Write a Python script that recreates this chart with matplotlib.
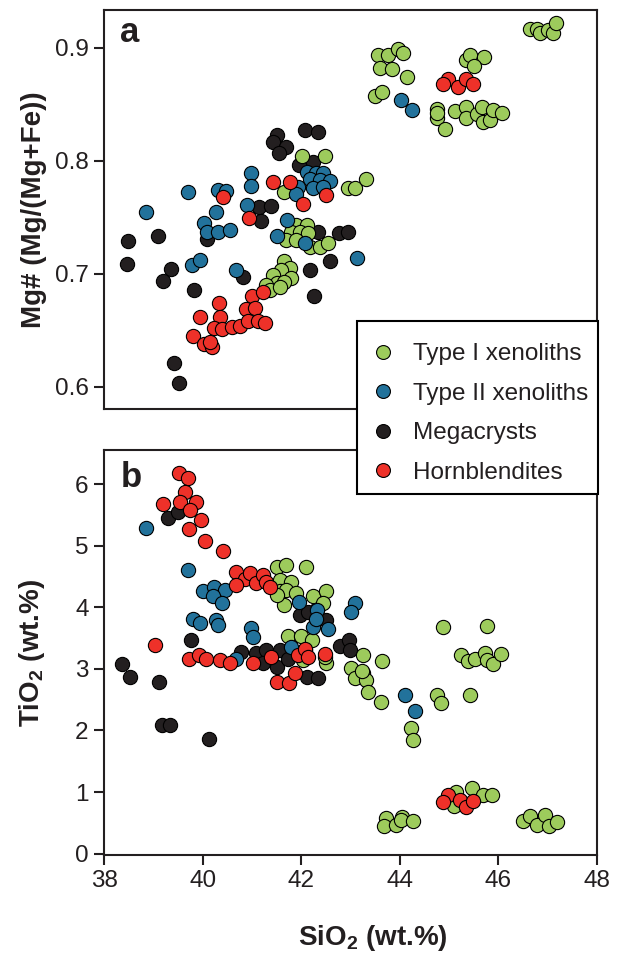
import matplotlib
matplotlib.use("Agg")
import matplotlib.pyplot as plt
from matplotlib.lines import Line2D
from matplotlib.patches import Rectangle

plt.rcParams['font.family'] = ['Liberation Sans', 'DejaVu Sans']
plt.rcParams['mathtext.fontset'] = 'custom'
plt.rcParams['mathtext.rm'] = 'Liberation Sans'
plt.rcParams['mathtext.bf'] = 'Liberation Sans:bold'

groups = ["Type I xenoliths", "Type II xenoliths", "Megacrysts", "Hornblendites"]
colors = ["#9DCB5C", "#22729B", "#231F20", "#EE3129"]

# panel a: SiO2 vs Mg#
typeI_a_x = [46.64, 46.78, 46.84, 47.01, 47.11, 47.17,
             43.56, 43.76, 43.97, 44.07, 43.59, 43.85, 44.14, 43.49, 43.64,
             45.34, 45.42, 45.71, 45.50,
             44.76, 44.75, 44.91, 45.12, 45.34, 45.35, 45.56, 45.66, 45.69, 45.83, 45.89, 46.07, 44.75,
             42.02, 42.49, 41.66, 42.95, 43.09, 43.32,
             41.90, 42.11, 41.80, 41.97, 42.14, 41.70, 41.90, 42.17, 42.38, 42.54,
             41.66, 41.77, 41.60, 41.80, 41.43, 41.50, 41.66, 41.29, 41.36, 41.56]
typeI_a_y = [0.917, 0.917, 0.913, 0.916, 0.913, 0.922,
             0.894, 0.894, 0.899, 0.895, 0.882, 0.881, 0.874, 0.857, 0.861,
             0.889, 0.894, 0.892, 0.884,
             0.846, 0.838, 0.828, 0.844, 0.848, 0.838, 0.841, 0.848, 0.834, 0.836, 0.845, 0.842, 0.842,
             0.804, 0.804, 0.772, 0.776, 0.776, 0.784,
             0.743, 0.743, 0.737, 0.737, 0.736, 0.730, 0.730, 0.724, 0.724, 0.727,
             0.711, 0.705, 0.703, 0.696, 0.699, 0.692, 0.693, 0.690, 0.686, 0.688]

typeII_a_x = [38.86, 39.70, 40.31, 40.47, 40.28, 40.02, 40.09, 40.32, 40.55, 39.79, 39.94, 40.68,
              40.91, 40.99, 40.99,
              42.12, 42.31, 42.44, 42.17, 42.38, 42.58, 42.24, 42.44, 41.94, 41.90,
              41.71, 41.51, 42.07, 43.14, 44.03, 44.25]
typeII_a_y = [0.755, 0.772, 0.774, 0.773, 0.755, 0.745, 0.737, 0.737, 0.739, 0.708, 0.712, 0.703,
              0.761, 0.789, 0.778,
              0.790, 0.789, 0.789, 0.784, 0.783, 0.782, 0.776, 0.777, 0.777, 0.771,
              0.748, 0.733, 0.727, 0.714, 0.854, 0.845]

mega_a_x = [41.50, 41.42, 41.69, 41.55, 42.07, 42.34, 41.95, 42.23,
            41.14, 41.38, 41.19, 42.34, 42.77, 42.95, 42.58, 42.17, 42.26,
            38.48, 39.09, 38.46, 39.36, 39.19, 40.81, 40.08, 39.82, 39.42, 39.52]
mega_a_y = [0.823, 0.817, 0.812, 0.807, 0.827, 0.825, 0.796, 0.799,
            0.759, 0.760, 0.747, 0.737, 0.736, 0.737, 0.711, 0.703, 0.680,
            0.729, 0.733, 0.709, 0.704, 0.694, 0.697, 0.731, 0.686, 0.621, 0.603]

horn_a_x = [44.98, 44.88, 45.18, 45.34, 45.49,
            41.43, 41.77, 42.51, 42.04, 40.41, 40.94,
            41.01, 41.22, 40.33, 39.95, 40.35, 40.89, 41.06, 40.24, 40.40, 40.60, 40.75,
            40.92, 41.12, 41.27, 39.80, 40.02, 40.20, 40.14]
horn_a_y = [0.872, 0.868, 0.865, 0.872, 0.868,
            0.781, 0.781, 0.770, 0.762, 0.768, 0.749,
            0.680, 0.684, 0.674, 0.662, 0.662, 0.669, 0.670, 0.652, 0.651, 0.653, 0.654,
            0.658, 0.658, 0.656, 0.645, 0.638, 0.635, 0.640]

# panel b: SiO2 vs TiO2
typeI_b_x = [41.50, 41.69, 42.09, 41.56, 41.80, 41.56, 41.70, 41.90, 42.24, 42.51, 41.66, 42.44, 41.50,
             41.73, 42.00, 42.21, 42.07, 42.04, 42.51, 42.48,
             43.26, 43.63, 43.02, 43.26, 43.09, 43.32, 43.36, 43.61, 43.24,
             44.87, 45.76, 45.25, 45.39, 45.52, 45.73, 45.76, 45.89, 46.05,
             44.76, 44.84, 45.42, 44.22, 44.27,
             45.15, 45.10, 45.46, 45.69, 45.88,
             43.73, 43.68, 43.92, 44.05, 44.03, 44.26,
             46.49, 46.64, 46.78, 46.94, 47.03, 47.18]
typeI_b_y = [4.65, 4.69, 4.65, 4.45, 4.42, 4.26, 4.28, 4.23, 4.18, 4.26, 4.04, 4.07, 4.20,
             3.53, 3.53, 3.47, 3.31, 3.15, 3.09, 3.20,
             3.23, 3.13, 3.01, 2.93, 2.85, 2.82, 2.63, 2.47, 2.96,
             3.69, 3.70, 3.23, 3.13, 3.16, 3.26, 3.15, 3.08, 3.24,
             2.58, 2.45, 2.57, 2.04, 1.85,
             1.00, 0.77, 1.06, 0.95, 0.95,
             0.57, 0.45, 0.46, 0.60, 0.54, 0.53,
             0.53, 0.61, 0.46, 0.63, 0.44, 0.52]

typeII_b_x = [38.86, 39.70, 40.01, 40.23, 40.45, 40.21, 40.40, 41.96, 42.32, 43.09, 43.02,
              39.80, 39.94, 40.28, 40.31, 40.99, 41.02, 42.24, 42.55, 42.31, 41.80, 40.68,
              44.10, 44.30]
typeII_b_y = [5.29, 4.61, 4.26, 4.34, 4.28, 4.18, 4.08, 4.09, 3.96, 4.07, 3.93,
              3.82, 3.75, 3.80, 3.72, 3.66, 3.52, 3.69, 3.65, 3.82, 3.36, 3.16,
              2.58, 2.31]

mega_b_x = [39.30, 39.50, 41.97, 42.14, 42.34, 42.51, 39.76, 42.78, 42.96, 42.98,
            38.37, 38.53, 39.11, 39.18, 39.33, 40.13,
            40.77, 41.09, 41.29, 41.22, 41.50, 41.56, 41.73, 42.11, 42.34]
mega_b_y = [5.46, 5.56, 3.88, 3.93, 4.01, 3.80, 3.47, 3.37, 3.47, 3.31,
            3.08, 2.87, 2.79, 2.09, 2.09, 1.86,
            3.28, 3.26, 3.31, 3.09, 3.04, 3.31, 3.17, 2.87, 2.85]

horn_b_x = [39.52, 39.70, 39.65, 39.19, 39.55, 39.87, 39.75, 39.96, 39.72, 40.04, 40.41,
            40.67, 40.85, 40.96, 40.68, 41.09, 41.22, 41.29, 41.36,
            39.03, 39.72, 39.92, 40.07, 40.36, 40.56, 41.02, 41.39, 41.50, 41.75, 41.87,
            41.94, 42.07, 42.14, 42.48,
            44.98, 44.87, 45.22, 45.34, 45.49]
horn_b_y = [6.18, 6.10, 5.87, 5.68, 5.72, 5.71, 5.59, 5.42, 5.28, 5.08, 4.91,
            4.58, 4.47, 4.56, 4.37, 4.39, 4.53, 4.42, 4.34,
            3.39, 3.17, 3.23, 3.16, 3.15, 3.09, 3.09, 3.19, 2.79, 2.77, 2.93,
            3.23, 3.32, 3.20, 3.24,
            0.95, 0.83, 0.87, 0.76, 0.85]

xticks = [38, 40, 42, 44, 46, 48]
yticks_a = [0.6, 0.7, 0.8, 0.9]
yticks_b = [0, 1, 2, 3, 4, 5, 6]

fig = plt.figure(figsize=(6.41, 9.58), dpi=100)
ax_a = fig.add_axes([104/641, 1-409/958, 493/641, 399/958])
ax_b = fig.add_axes([104/641, 1-855/958, 493/641, 405/958])

dark = "#231F20"
kw = dict(s=105, edgecolors="black", linewidths=0.8, clip_on=False)

panel_a = [(mega_a_x, mega_a_y, 2), (typeI_a_x, typeI_a_y, 0),
           (typeII_a_x, typeII_a_y, 1), (horn_a_x, horn_a_y, 3)]
panel_b = [(mega_b_x, mega_b_y, 2), (typeI_b_x, typeI_b_y, 0),
           (typeII_b_x, typeII_b_y, 1), (horn_b_x, horn_b_y, 3)]

for xs, ys, i in panel_a:
    ax_a.scatter(xs, ys, c=colors[i], **kw)
for xs, ys, i in panel_b:
    ax_b.scatter(xs, ys, c=colors[i], **kw)

for ax in (ax_a, ax_b):
    ax.set_xlim(38, 48)
    for sp in ax.spines.values():
        sp.set_linewidth(1.5)
        sp.set_color(dark)
    ax.tick_params(axis="both", direction="out", length=7, width=1.5,
                   color=dark, labelcolor=dark, labelsize=17.5, pad=4)

ax_a.set_ylim(0.5803, 0.9334)
ax_a.set_yticks(yticks_a)
ax_a.set_yticklabels(["0.6", "0.7", "0.8", "0.9"])
ax_a.set_xticks([])

ax_b.set_ylim(-0.024, 6.56)
ax_b.set_yticks(yticks_b)
ax_b.set_xticks(xticks)

ax_a.set_ylabel("Mg# (Mg/(Mg+Fe))", fontsize=20, fontweight="bold", color=dark)
ax_a.yaxis.set_label_coords(-0.115, 0.5)
ax_b.set_ylabel(r"TiO$_\mathbf{2}$ (wt.%)", fontsize=20, fontweight="bold", color=dark)
ax_b.yaxis.set_label_coords(-0.115, 0.5)
ax_b.set_xlabel(r"SiO$_\mathbf{2}$ (wt.%)", fontsize=20, fontweight="bold", color=dark)
ax_b.xaxis.set_label_coords(0.546, -0.168)

ax_a.text(0.033, 0.92, "a", transform=ax_a.transAxes, fontsize=25,
          fontweight="bold", color=dark)
ax_b.text(0.033, 0.909, "b", transform=ax_b.transAxes, fontsize=25,
          fontweight="bold", color=dark)

# legend box spanning both panels
box = Rectangle((357/641, 1-494/958), 241/641, 173/958, transform=fig.transFigure,
                facecolor="white", edgecolor="black", linewidth=1.5, zorder=3)
fig.patches.append(box)

handles = [Line2D([], [], marker="o", ls="", markersize=10, markerfacecolor=colors[i],
                  markeredgecolor="black", markeredgewidth=0.8) for i in range(4)]
leg = fig.legend(handles, groups, loc="upper left", bbox_to_anchor=(368/641, 1-343/958),
                 fontsize=17.5, frameon=False, borderaxespad=0, borderpad=0,
                 labelspacing=0.72, handletextpad=0.64, handlelength=1.2)
for t in leg.get_texts():
    t.set_color(dark)

plt.savefig("out.png", dpi=100)
